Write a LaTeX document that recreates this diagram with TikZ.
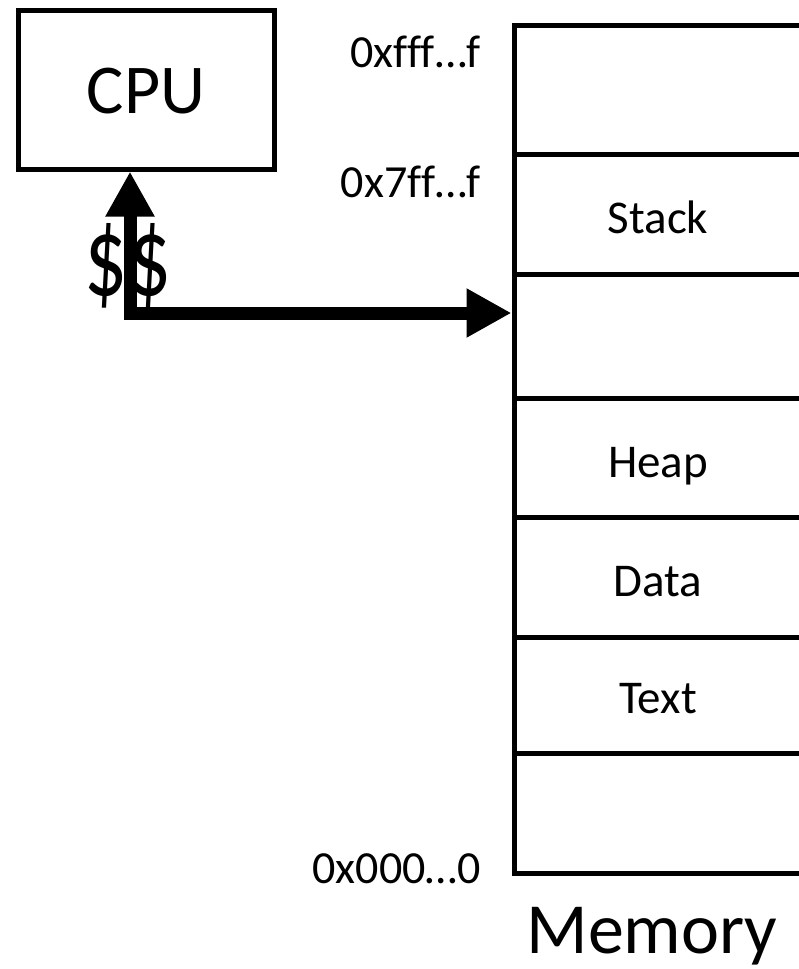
\documentclass[tikz,border=0pt]{standalone}
\usepackage{fontspec}
\usepackage{graphicx}
\setmainfont[Ligatures=NoCommon]{Carlito}
\usetikzlibrary{arrows.meta}

\begin{document}
\begin{tikzpicture}
[x=1pt,y=-1pt,
  boxDecorate/.style={shape=rectangle,draw,line width=5pt,inner sep=0pt},%
  segDecorate/.style={anchor=base,font=\fontsize{47}{56}\selectfont},%
  addrDecorate/.style={anchor=base east,inner sep=0pt,font=\fontsize{46}{55}\selectfont},%
  bigDecorate/.style={inner sep=0pt,font=\fontsize{70}{84}\selectfont},%
  lineDecorate/.style={line width=5pt},%
  busDecorate/.style={line width=13pt,{Triangle[length=45pt,width=46pt]}-{Triangle[length=45pt,width=46pt]}}]
\useasboundingbox (0,0) rectangle (799,969);
\clip (0,0) rectangle (799,969);
%% cpu and memory
\node (cpu) at (146,89.5) [boxDecorate,minimum width=256pt,minimum height=159pt] {};
\node (cpulabel) at (146,113) [bigDecorate,anchor=base] {CPU};
\node (mem) at (514,25) [boxDecorate,outer sep=0pt,anchor=north west,minimum width=400pt,minimum height=848pt] {};
%% memory segments
\foreach \y in {154,274,398,517,637,753}
{
  \draw[lineDecorate] (514,\y) -- (830,\y);
}
\foreach \nodename/\y/\segtext in {stack/233/Stack, heap/477/Heap, data/596/Data, text/713/Text}
{
  \node (\nodename) at (658,\y) [segDecorate,inner sep=0pt] {\segtext};
}
%% addresses
\foreach \nodename/\y/\addr in {addrhigh/67/0xfff…f, addrstack/197/0x7ff…f, addrlow/883/0x000…0}
{
  \node (\nodename) at (481,\y) [addrDecorate] {\addr};
}
\node (memlabel) at (652,953) [bigDecorate,anchor=base,font=\fontsize{72}{86}\selectfont] {Memory};
%% bus
\node (cache) at (128,295) [bigDecorate,anchor=base,font=\fontsize{76}{90}\selectfont] {\scalebox{1.12}[1.5]{\$\$}};
\coordinate (memport) at (511.5,313);
\draw[busDecorate] ([xshift=-16pt]cpu.south) |- (memport);
\end{tikzpicture}
\end{document}
